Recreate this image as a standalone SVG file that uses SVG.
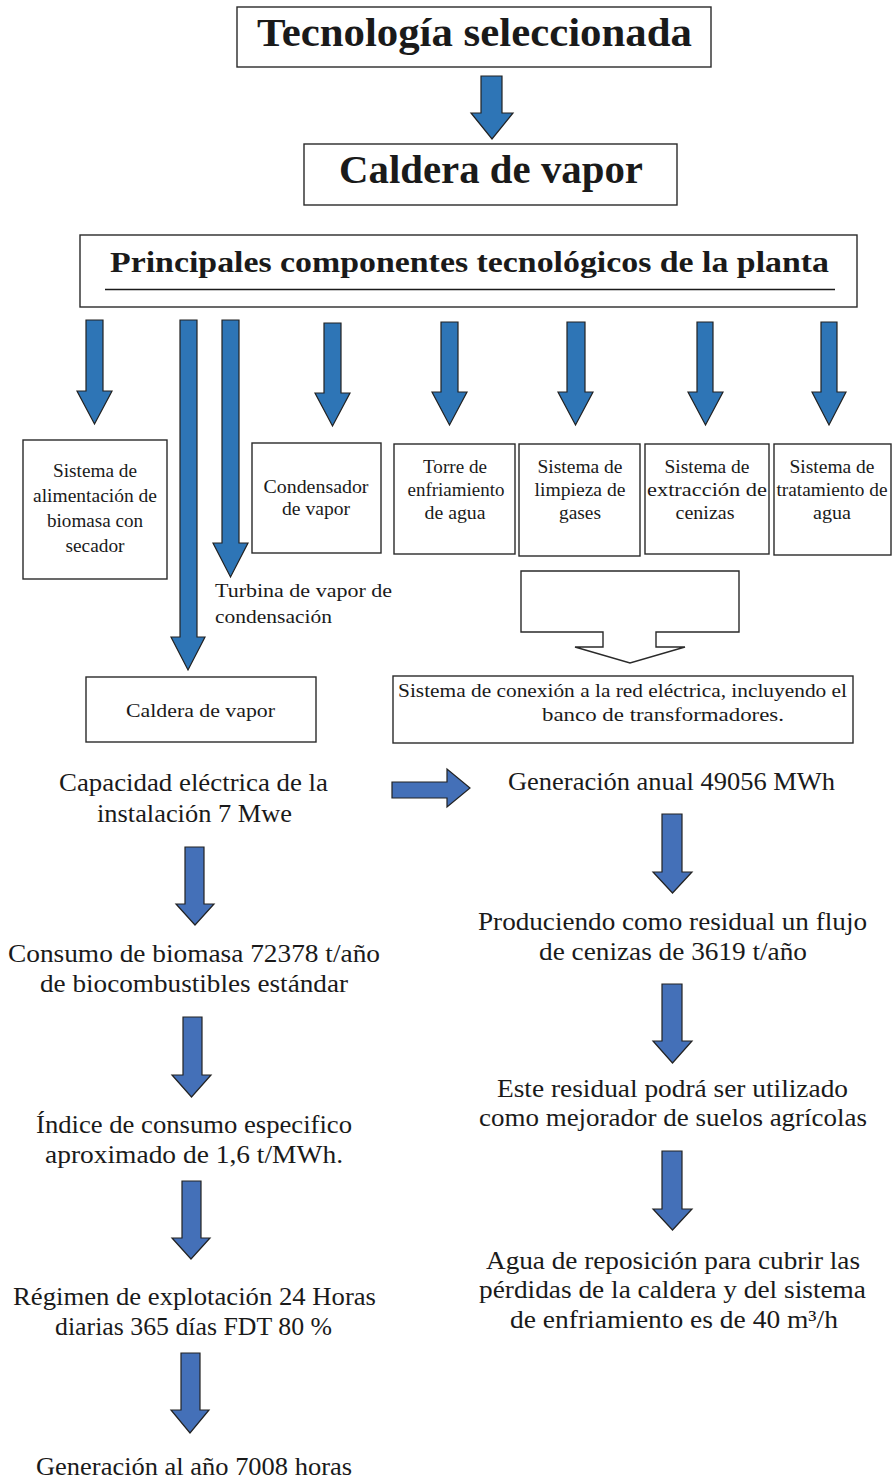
<svg xmlns="http://www.w3.org/2000/svg" width="892" height="1481" viewBox="0 0 892 1481">
<style>
.box{fill:#fff;stroke:#2a2a2a;stroke-width:1.4}
.ua{fill:#2E75B6;stroke:#222;stroke-width:1.2;stroke-linejoin:miter}
.la{fill:#4470B8;stroke:#222;stroke-width:1.2;stroke-linejoin:miter}
.wa{fill:#fff;stroke:#2a2a2a;stroke-width:1.4}
text{font-family:"Liberation Serif","Times New Roman",serif;fill:#1a1a1a}
.h{font-weight:bold;font-size:40px}
.h2{font-weight:bold;font-size:30px}
.s{font-size:18px;text-anchor:middle}
.sl{font-size:18px}
.m{font-size:25px;text-anchor:middle}
</style>
<rect width="892" height="1481" fill="#fff"/>

<g id="connectors">
  <path class="ua" d="M481,76 H502 V113 H513 L492,139 L471,113 H481 Z"/>
  <path class="ua" d="M86,320 H103 V391 H112 L94.5,424 L77,391 H86 Z"/>
  <path class="ua" d="M180,320 H197 V637 H205 L188,670 L171,637 H180 Z"/>
  <path class="ua" d="M222,320 H239 V543 H248 L230.5,577 L213,543 H222 Z"/>
  <path class="ua" d="M324,323 H341 V393 H350 L332.5,426 L315,393 H324 Z"/>
  <path class="ua" d="M441,322 H458 V392 H467 L449.5,425 L432,392 H441 Z"/>
  <path class="ua" d="M567,322 H585 V392 H593 L575.5,425 L558,392 H567 Z"/>
  <path class="ua" d="M697,322 H713 V392 H723 L705.5,425 L688,392 H697 Z"/>
  <path class="ua" d="M821,322 H837 V392 H846 L829,425 L812,392 H821 Z"/>
  <path class="wa" d="M521,571 H739 V632 H656 V647 H685 L630,663 L575,647 H603 V632 H521 Z"/>
  <path class="la" d="M392,782 H447 V769 L470,788 L447,807 V798 H392 Z"/>
  <path class="la" d="M185,847 H204 V904 H214 L195,925 L176,904 H185 Z"/>
  <path class="la" d="M183,1017 H202 V1075 H211 L191.5,1097 L172,1075 H183 Z"/>
  <path class="la" d="M182,1181 H201 V1238 H210 L191,1259 L172,1238 H182 Z"/>
  <path class="la" d="M181,1353 H200 V1410 H209 L190,1433 L171,1410 H181 Z"/>
  <path class="la" d="M662,814 H682 V872 H692 L672.5,893 L653,872 H662 Z"/>
  <path class="la" d="M662,984 H682 V1041 H692 L672.5,1063 L653,1041 H662 Z"/>
  <path class="la" d="M662,1151 H682 V1209 H692 L672.5,1230 L653,1209 H662 Z"/>
</g>

<g id="n-tecnologia">
  <rect class="box" x="237" y="7" width="474" height="60"/>
  <text class="h" x="257" y="46" textLength="435" lengthAdjust="spacingAndGlyphs">Tecnología seleccionada</text>
</g>
<g id="n-caldera-top">
  <rect class="box" x="304" y="144" width="373" height="61"/>
  <text class="h" x="339" y="183" textLength="304" lengthAdjust="spacingAndGlyphs">Caldera de vapor</text>
</g>
<g id="n-principales">
  <rect class="box" x="80" y="235" width="777" height="72"/>
  <text class="h2" x="110" y="272" textLength="719" lengthAdjust="spacingAndGlyphs">Principales componentes tecnológicos de la planta</text>
  <line x1="105" y1="289.5" x2="835" y2="289.5" stroke="#1a1a1a" stroke-width="1.3"/>
</g>
<g id="n-alimentacion">
  <rect class="box" x="23" y="440" width="144" height="139"/>
  <text class="s" x="95" y="477" textLength="84" lengthAdjust="spacingAndGlyphs">Sistema de</text>
  <text class="s" x="95" y="502" textLength="124" lengthAdjust="spacingAndGlyphs">alimentación de</text>
  <text class="s" x="95" y="527" textLength="96" lengthAdjust="spacingAndGlyphs">biomasa con</text>
  <text class="s" x="95" y="552" textLength="59" lengthAdjust="spacingAndGlyphs">secador</text>
</g>
<g id="n-turbina">
  <text class="sl" x="215" y="597" textLength="177" lengthAdjust="spacingAndGlyphs">Turbina de vapor de</text>
  <text class="sl" x="215" y="623" textLength="117" lengthAdjust="spacingAndGlyphs">condensación</text>
</g>
<g id="n-condensador">
  <rect class="box" x="252" y="443" width="129" height="110"/>
  <text class="s" x="316" y="493" textLength="105" lengthAdjust="spacingAndGlyphs">Condensador</text>
  <text class="s" x="316" y="515" textLength="68" lengthAdjust="spacingAndGlyphs">de vapor</text>
</g>
<g id="n-torre">
  <rect class="box" x="394" y="444" width="121" height="110"/>
  <text class="s" x="455" y="473" textLength="64" lengthAdjust="spacingAndGlyphs">Torre de</text>
  <text class="s" x="456" y="496" textLength="97" lengthAdjust="spacingAndGlyphs">enfriamiento</text>
  <text class="s" x="455" y="519" textLength="61" lengthAdjust="spacingAndGlyphs">de agua</text>
</g>
<g id="n-limpieza">
  <rect class="box" x="519" y="444" width="121" height="112"/>
  <text class="s" x="580" y="473" textLength="85" lengthAdjust="spacingAndGlyphs">Sistema de</text>
  <text class="s" x="580" y="496" textLength="91" lengthAdjust="spacingAndGlyphs">limpieza de</text>
  <text class="s" x="580" y="519" textLength="42" lengthAdjust="spacingAndGlyphs">gases</text>
</g>
<g id="n-extraccion">
  <rect class="box" x="645" y="444" width="124" height="110"/>
  <text class="s" x="707" y="473" textLength="85" lengthAdjust="spacingAndGlyphs">Sistema de</text>
  <text class="s" x="707" y="496" textLength="120" lengthAdjust="spacingAndGlyphs">extracción de</text>
  <text class="s" x="705" y="519" textLength="59" lengthAdjust="spacingAndGlyphs">cenizas</text>
</g>
<g id="n-tratamiento">
  <rect class="box" x="774" y="444" width="117" height="111"/>
  <text class="s" x="832" y="473" textLength="85" lengthAdjust="spacingAndGlyphs">Sistema de</text>
  <text class="s" x="832" y="496" textLength="111" lengthAdjust="spacingAndGlyphs">tratamiento de</text>
  <text class="s" x="832" y="519" textLength="38" lengthAdjust="spacingAndGlyphs">agua</text>
</g>
<g id="n-caldera-small">
  <rect class="box" x="86" y="677" width="230" height="65"/>
  <text class="s" x="200.5" y="717" textLength="149" lengthAdjust="spacingAndGlyphs">Caldera de vapor</text>
</g>
<g id="n-conexion">
  <rect class="box" x="393" y="676" width="460" height="67"/>
  <text class="sl" x="398" y="697" textLength="449" lengthAdjust="spacingAndGlyphs">Sistema de conexión a la red eléctrica, incluyendo el</text>
  <text class="s" x="663" y="721" textLength="242" lengthAdjust="spacingAndGlyphs">banco de transformadores.</text>
</g>
<g id="n-capacidad">
  <text class="m" x="193.5" y="791" textLength="269" lengthAdjust="spacingAndGlyphs">Capacidad eléctrica de la</text>
  <text class="m" x="194.5" y="822" textLength="195" lengthAdjust="spacingAndGlyphs">instalación 7 Mwe</text>
</g>
<g id="n-generacion-anual">
  <text class="m" x="671.5" y="790" textLength="327" lengthAdjust="spacingAndGlyphs">Generación anual 49056 MWh</text>
</g>
<g id="n-consumo">
  <text class="m" x="194" y="962" textLength="372" lengthAdjust="spacingAndGlyphs">Consumo de biomasa 72378 t/año</text>
  <text class="m" x="194" y="992" textLength="308" lengthAdjust="spacingAndGlyphs">de biocombustibles estándar</text>
</g>
<g id="n-indice">
  <text class="m" x="194" y="1133" textLength="316" lengthAdjust="spacingAndGlyphs">Índice de consumo especifico</text>
  <text class="m" x="194" y="1163" textLength="298" lengthAdjust="spacingAndGlyphs">aproximado de 1,6 t/MWh.</text>
</g>
<g id="n-regimen">
  <text class="m" x="194.5" y="1305" textLength="363" lengthAdjust="spacingAndGlyphs">Régimen de explotación 24 Horas</text>
  <text class="m" x="193.5" y="1335" textLength="277" lengthAdjust="spacingAndGlyphs">diarias 365 días FDT 80 %</text>
</g>
<g id="n-generacion-horas">
  <text class="m" x="194" y="1475" textLength="316" lengthAdjust="spacingAndGlyphs">Generación al año 7008 horas</text>
</g>
<g id="n-produciendo">
  <text class="m" x="672.5" y="930" textLength="389" lengthAdjust="spacingAndGlyphs">Produciendo como residual un flujo</text>
  <text class="m" x="673" y="960" textLength="268" lengthAdjust="spacingAndGlyphs">de cenizas de 3619 t/año</text>
</g>
<g id="n-residual">
  <text class="m" x="672.5" y="1097" textLength="351" lengthAdjust="spacingAndGlyphs">Este residual podrá ser utilizado</text>
  <text class="m" x="673" y="1126" textLength="388" lengthAdjust="spacingAndGlyphs">como mejorador de suelos agrícolas</text>
</g>
<g id="n-agua">
  <text class="m" x="673" y="1269" textLength="374" lengthAdjust="spacingAndGlyphs">Agua de reposición para cubrir las</text>
  <text class="m" x="672.5" y="1298" textLength="387" lengthAdjust="spacingAndGlyphs">pérdidas de la caldera y del sistema</text>
  <text class="m" x="674" y="1328" textLength="328" lengthAdjust="spacingAndGlyphs">de enfriamiento es de 40 m³/h</text>
</g>
</svg>
